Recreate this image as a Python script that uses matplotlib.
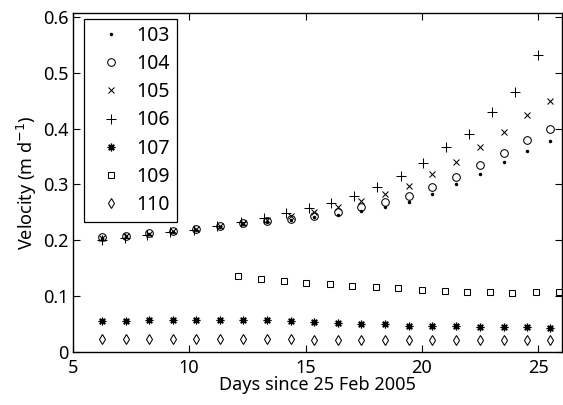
import numpy as np
import matplotlib
matplotlib.use('Agg')
from matplotlib import pyplot as plt

plt.rcParams['font.family'] = ['Noto Sans', 'DejaVu Sans']

# sample days shared by most stations
days = [6.26, 7.29, 8.29, 9.33, 10.31, 11.33, 12.33, 13.36, 14.37, 15.37,
        16.40, 17.40, 18.43, 19.44, 20.45, 21.48, 22.48, 23.51, 24.50, 25.51]
# station 106 and 109 were sampled on their own schedule
days_106 = [6.26, 7.23, 8.21, 9.19, 10.22, 11.19, 12.22, 13.20, 14.18, 15.15,
            16.10, 17.09, 18.06, 19.08, 20.04, 21.05, 22.02, 23.01, 24.00, 24.98]
days_109 = [12.11, 13.08, 14.07, 15.04, 16.04, 17.01, 18.01, 18.99, 19.99,
            20.97, 21.93, 22.94, 23.88, 24.90, 25.87]

v103 = [0.204, 0.207, 0.211, 0.215, 0.219, 0.224, 0.229, 0.233, 0.236, 0.241,
        0.246, 0.252, 0.259, 0.269, 0.283, 0.300, 0.319, 0.340, 0.360, 0.378]
v104 = [0.205, 0.208, 0.213, 0.217, 0.221, 0.226, 0.231, 0.235, 0.238, 0.244,
        0.251, 0.259, 0.269, 0.280, 0.295, 0.314, 0.334, 0.356, 0.380, 0.400]
v105 = [0.204, 0.207, 0.212, 0.216, 0.220, 0.225, 0.230, 0.236, 0.243, 0.250,
        0.260, 0.271, 0.283, 0.298, 0.318, 0.341, 0.367, 0.394, 0.424, 0.450]
v106 = [0.200, 0.204, 0.210, 0.215, 0.219, 0.225, 0.232, 0.240, 0.249, 0.257,
        0.266, 0.280, 0.296, 0.315, 0.338, 0.367, 0.390, 0.429, 0.466, 0.532]
v107 = [0.056, 0.056, 0.057, 0.057, 0.057, 0.058, 0.058, 0.057, 0.056, 0.054,
        0.051, 0.050, 0.050, 0.047, 0.047, 0.047, 0.045, 0.044, 0.044, 0.042]
v109 = [0.136, 0.130, 0.127, 0.123, 0.122, 0.118, 0.116, 0.114, 0.111, 0.109,
        0.107, 0.107, 0.106, 0.107, 0.107]
v110 = [0.023, 0.023, 0.023, 0.023, 0.023, 0.023, 0.023, 0.023, 0.023, 0.022,
        0.022, 0.022, 0.022, 0.022, 0.022, 0.022, 0.022, 0.022, 0.022, 0.022]

fig = plt.figure(figsize=(5.63, 4.05), dpi=100)
ax = fig.add_axes([0.129, 0.131, 0.8687, 0.837])

mk = dict(linestyle='none', color='k', markerfacecolor='none', markeredgewidth=0.75)
ax.plot(days, v103, marker='.', markersize=3, label='103',
        linestyle='none', color='k')
ax.plot(days, v104, marker='o', markersize=5.5, label='104', **mk)
ax.plot(days, v105, marker='x', markersize=4.5, label='105', **mk)
ax.plot(days_106, v106, marker='+', markersize=6.5, label='106', **mk)
ax.plot(days, v107, marker=(8, 2, 0), markersize=5.5, label='107',
        linestyle='none', color='k', markeredgewidth=0.9)
ax.plot(days_109, v109, marker='s', markersize=4.8, label='109', **mk)
ax.plot(days, v110, marker='d', markersize=5.0, label='110', **mk)

ax.set_xlim(5, 26)
ax.set_ylim(0, 0.607)
ax.set_xticks([5, 10, 15, 20, 25])
ax.set_yticks([0, 0.1, 0.2, 0.3, 0.4, 0.5, 0.6])
ax.set_yticklabels(['0', '0.1', '0.2', '0.3', '0.4', '0.5', '0.6'])
ax.tick_params(direction='in', top=True, right=True, labelsize=13, length=5, width=0.8)
ax.tick_params(axis='x', pad=5)
ax.tick_params(axis='y', pad=3)
for s in ax.spines.values():
    s.set_linewidth(1.0)

ax.set_xlabel('Days since 25 Feb 2005', fontsize=13, labelpad=-1)
ax.set_ylabel(r'Velocity (m d$^{-1}$)', fontsize=13, labelpad=3)

leg = ax.legend(loc='upper left', bbox_to_anchor=(0.023, 0.982), borderaxespad=0,
                numpoints=1, fontsize=14, handlelength=2.1, handletextpad=0.25,
                labelspacing=0.42, borderpad=0.35, fancybox=False, framealpha=1)
leg.get_frame().set_edgecolor('k')
leg.get_frame().set_linewidth(0.9)

plt.savefig('out.png', dpi=100)
plt.close()
